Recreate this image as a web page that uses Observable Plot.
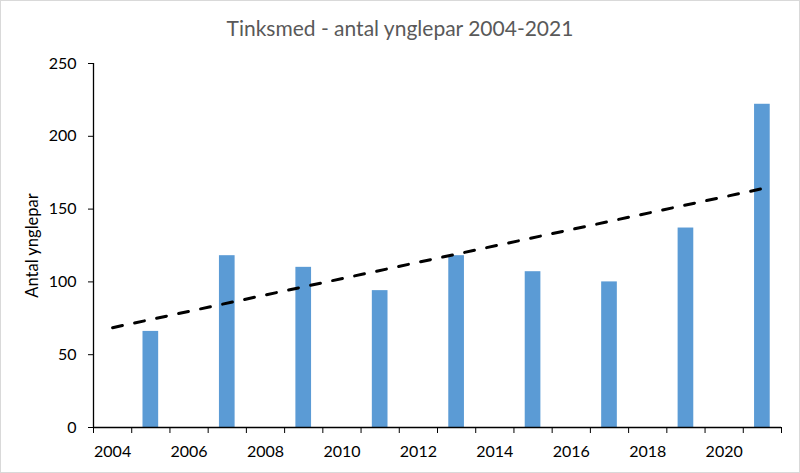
<!DOCTYPE html>
<html><head><meta charset="utf-8">
<script src="https://cdn.jsdelivr.net/npm/d3@7"></script>
<script src="https://cdn.jsdelivr.net/npm/@observablehq/plot@0.6"></script>
<style>
body{margin:0;background:#fff}
#chart{position:relative;width:800px;height:473px;overflow:hidden;font-family:Lato,sans-serif;background:#fff}
#title{height:50px;box-sizing:border-box;padding-top:15px;text-align:center;font-size:21px;line-height:26px;color:#595959;white-space:nowrap}
#frame{position:absolute;left:0;top:0;width:800px;height:473px;box-sizing:border-box;border:1.5px solid #d9d9d9;pointer-events:none}
svg{display:block}
</style></head><body>
<div id="chart"><div id="title"></div><div id="plot"></div><div id="frame"></div></div>
<script>
const title = "Tinksmed - antal ynglepar 2004-2021";
const yLabel = "Antal ynglepar";
const years = [2004,2005,2006,2007,2008,2009,2010,2011,2012,2013,2014,2015,2016,2017,2018,2019,2020,2021];
const counts = [null,66,null,118,null,110,null,94,null,118,null,107,null,100,null,137,null,222];
const yTicks = [0,50,100,150,200,250];
const xTickLabels = [2004,2006,2008,2010,2012,2014,2016,2018,2020];

document.getElementById("title").textContent = title;

const points = years.map((year, i) => ({year, count: counts[i]})).filter(d => d.count != null);
const mx = d3.mean(points, d => d.year), my = d3.mean(points, d => d.count);
const slope = d3.sum(points, d => (d.year - mx) * (d.count - my)) / d3.sum(points, d => (d.year - mx) ** 2);
const intercept = my - slope * mx;
const trend = [years[0], years[years.length - 1]].map(year => ({year, count: intercept + slope * year}));
const boundaries = years.map(y => y - 0.5).concat([years[years.length - 1] + 0.5]);
const x0 = years[0] - 0.5, x1 = years[years.length - 1] + 0.5;

const chart = Plot.plot({
  width: 800, height: 423,
  marginTop: 13, marginBottom: 46, marginLeft: 93, marginRight: 19,
  style: {fontFamily: "Lato, sans-serif", fontSize: "16px", color: "#000", background: "white", overflow: "visible"},
  x: {type: "linear", domain: [x0, x1]},
  y: {domain: [0, 250]},
  marks: [
    Plot.rectY(points, {x1: d => d.year - 0.205, x2: d => d.year + 0.205, y: "count", fill: "#5B9BD5"}),
    Plot.line(trend, {x: "year", y: "count", stroke: "#000", strokeWidth: 3, strokeDasharray: "10,12.5", strokeLinecap: "round"}),
    Plot.ruleY([0], {stroke: "#000", strokeWidth: 1.3}),
    Plot.ruleX([x0], {stroke: "#000", strokeWidth: 1.3}),
    Plot.axisY({ticks: yTicks, tickSize: 5, tickPadding: 12, label: null, tickFormat: d => String(d)}),
    Plot.axisX({ticks: boundaries, tickSize: 6, tickFormat: () => "", label: null}),
    Plot.axisX({ticks: xTickLabels, tickSize: 0, tickPadding: 18, tickFormat: d => String(d), label: null}),
    Plot.text([yLabel], {frameAnchor: "left", dx: -61, rotate: -90, textAnchor: "middle", lineAnchor: "middle", fontSize: 16.5, fill: "#000"})
  ]
});
document.getElementById("plot").appendChild(chart);
</script>
</body></html>
